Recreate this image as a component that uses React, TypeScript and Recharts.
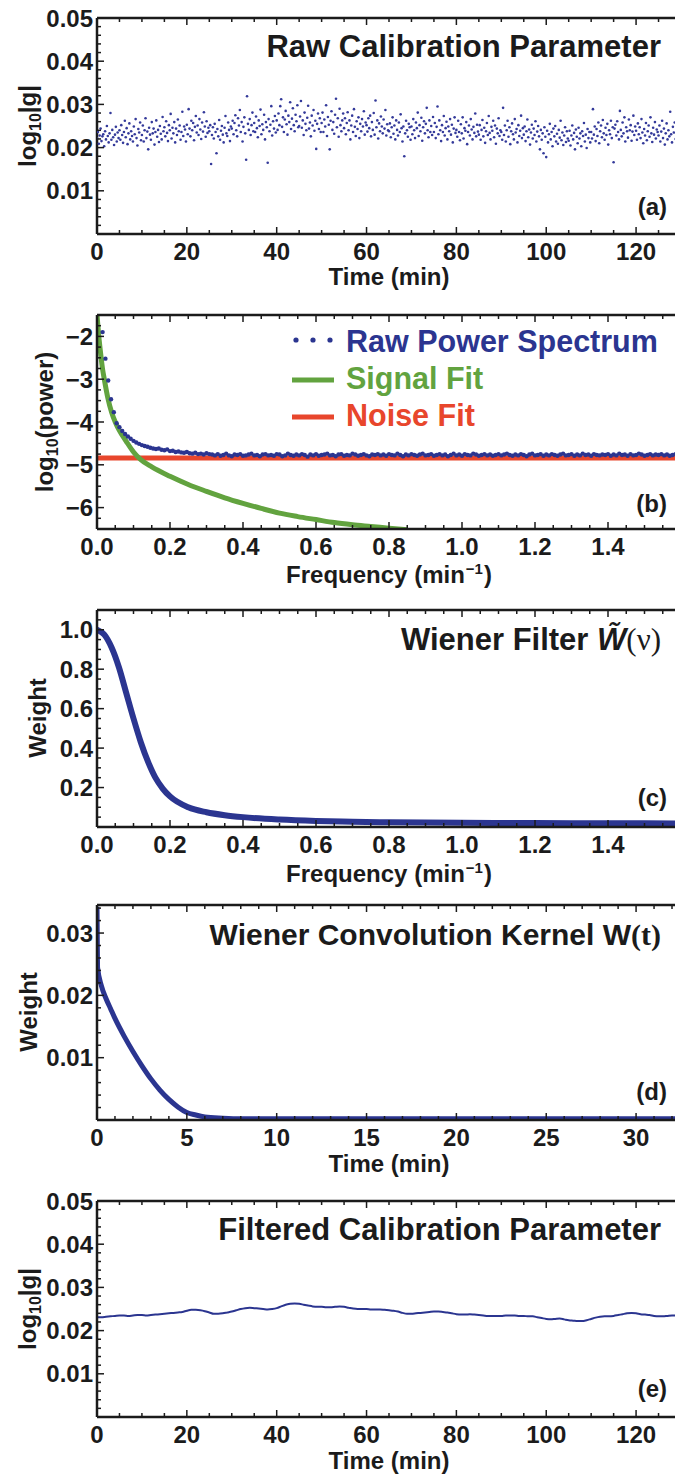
import React from 'react';
import { ComposedChart, Scatter, Line, XAxis, YAxis } from 'recharts';

// (a) raw log10|g|, one sample every 0.2 min, values in units of 1e-4
const rawStep = 0.2;
const rawG = [
  221, 236, 209, 228, 244, 215, 226, 231, 203, 238, 219, 250, 227, 212, 233, 280, 218, 241, 224, 206, 230, 248, 214, 235, 222,
  240, 218, 252, 229, 211, 236, 262, 224, 245, 208, 233, 256, 219, 238, 227, 214, 249, 231, 266, 222, 205, 243, 235, 258, 217,
  229, 251, 214, 240, 268, 222, 237, 196, 246, 230, 218, 259, 233, 244, 207, 236, 263, 225, 241, 213, 250, 232, 219, 271, 238,
  247, 226, 261, 234, 215, 252, 240, 278, 221, 246, 233, 259, 212, 244, 229, 265, 238, 251, 218, 236, 283, 227, 249, 242, 214,
  253, 231, 289, 244, 226, 262, 240, 257, 217, 248, 273, 235, 251, 229, 266, 242, 220, 258, 237, 282, 249, 225, 261, 234, 246,
  238, 252, 162, 229, 247, 221, 255, 236, 187, 243, 226, 264, 218, 239, 250, 230, 212, 246, 273, 233, 227, 258, 241, 215, 249,
  244, 262, 231, 257, 275, 240, 226, 268, 251, 287, 236, 259, 214, 248, 270, 233, 172, 319, 255, 241, 266, 229, 252, 281, 238,
  257, 236, 272, 245, 224, 263, 250, 288, 231, 254, 241, 276, 219, 259, 247, 165, 266, 238, 253, 296, 228, 261, 244, 273, 235,
  263, 241, 279, 252, 296, 312, 248, 270, 236, 265, 285, 254, 230, 274, 259, 305, 243, 267, 291, 252, 238, 276, 261, 298, 247,
  250, 272, 308, 246, 263, 229, 281, 255, 240, 269, 297, 244, 258, 226, 274, 251, 287, 239, 262, 197, 255, 279, 243, 268, 236,
  257, 281, 236, 265, 249, 298, 227, 271, 253, 196, 262, 284, 241, 259, 232, 276, 313, 247, 268, 225, 290, 252, 238, 263, 279,
  245, 268, 231, 257, 282, 240, 263, 219, 251, 274, 236, 289, 248, 227, 261, 243, 270, 222, 255, 238, 266, 249, 284, 230, 258,
  252, 237, 268, 245, 274, 226, 259, 241, 280, 230, 309, 247, 263, 221, 256, 238, 272, 249, 233, 265, 244, 287, 228, 254, 240,
  238, 256, 224, 247, 270, 232, 251, 219, 263, 241, 228, 258, 236, 277, 245, 214, 249, 180, 233, 262, 240, 225, 255, 247, 218,
  249, 231, 266, 240, 222, 258, 245, 281, 227, 252, 238, 269, 216, 247, 261, 233, 255, 292, 240, 224, 263, 236, 250, 229, 271,
  236, 257, 222, 248, 295, 231, 263, 240, 215, 252, 236, 273, 228, 245, 260, 219, 249, 238, 266, 230, 253, 212, 244, 270, 234,
  241, 225, 262, 236, 217, 254, 233, 270, 221, 245, 239, 259, 208, 236, 251, 228, 266, 242, 219, 248, 234, 279, 226, 253, 237,
  230, 252, 218, 241, 264, 226, 246, 211, 238, 257, 229, 273, 234, 219, 248, 239, 262, 224, 251, 209, 244, 233, 268, 227, 240,
  236, 218, 292, 229, 251, 214, 240, 262, 225, 247, 208, 238, 256, 231, 219, 266, 235, 243, 212, 252, 227, 239, 274, 222, 245,
  230, 249, 215, 238, 265, 224, 242, 207, 235, 253, 221, 244, 229, 261, 214, 237, 250, 226, 196, 241, 218, 233, 187, 247, 225,
  178, 239, 212, 231, 255, 219, 236, 203, 244, 226, 250, 214, 232, 209, 241, 223, 262, 217, 235, 206, 228, 247, 213, 238, 221,
  216, 239, 205, 228, 251, 219, 234, 196, 242, 225, 210, 246, 221, 233, 203, 238, 227, 257, 214, 230, 199, 243, 222, 236, 212,
  236, 221, 289, 230, 249, 215, 243, 227, 258, 210, 238, 251, 224, 264, 233, 218, 246, 229, 255, 207, 240, 231, 262, 222, 247,
  166, 244, 253, 228, 261, 236, 219, 285, 241, 226, 258, 233, 270, 214, 247, 238, 223, 265, 240, 252, 216, 237, 274, 229, 249,
  239, 218, 256, 231, 247, 222, 266, 235, 210, 243, 228, 257, 217, 238, 251, 225, 270, 233, 213, 246, 230, 259, 221, 242, 236,
  228, 251, 214, 237, 262, 222, 244, 207, 233, 256, 219, 240, 226, 283, 231, 212, 248, 235, 258, 220, 239, 227, 252, 216, 241,
];

// (e) filtered log10|g|, one value per minute, units of 1e-4
const filteredG = [
  231, 231, 232, 233, 234, 235, 235, 234, 235, 236,
  236, 235, 236, 237, 238, 239, 240, 241, 242, 243,
  246, 248, 248, 247, 245, 242, 239, 239, 240, 242,
  244, 247, 250, 252, 253, 252, 251, 250, 249, 250,
  252, 256, 260, 262, 263, 262, 260, 258, 256, 255,
  255, 254, 254, 255, 256, 255, 253, 251, 250, 250,
  250, 249, 249, 249, 248, 247, 246, 244, 241, 239,
  239, 240, 241, 242, 243, 244, 244, 243, 242, 240,
  238, 237, 237, 238, 237, 236, 235, 234, 234, 234,
  234, 235, 235, 235, 234, 234, 233, 233, 231, 229,
  227, 226, 227, 228, 226, 224, 223, 222, 222, 224,
  227, 230, 232, 233, 233, 234, 236, 238, 240, 241,
  240, 238, 237, 236, 234, 233, 233, 234, 235, 235,
];

// (b) raw power spectrum, log10(power) at k / 130 min^-1 starting from k = 2
const specStep = 1 / 130;
const specFirstK = 2;
const rawSpectrum = [
  -1.9, -2.52, -3.03, -3.47, -3.77, -4.03, -4.12, -4.21, -4.28, -4.34, -4.39, -4.44, -4.48, -4.51, -4.54, -4.56, -4.58, -4.6, -4.62,
  -4.63, -4.62, -4.65, -4.66, -4.64, -4.68, -4.67, -4.7, -4.69, -4.71, -4.72, -4.7, -4.73, -4.74, -4.72, -4.75, -4.74, -4.76, -4.73, -4.75,
  -4.76, -4.78, -4.75, -4.79, -4.77, -4.74, -4.78, -4.8, -4.76, -4.77, -4.75, -4.79, -4.78, -4.76, -4.74, -4.78, -4.77, -4.8, -4.76, -4.75,
  -4.78, -4.77, -4.79, -4.75, -4.76, -4.8, -4.78, -4.74, -4.77, -4.79, -4.76, -4.78, -4.75, -4.77, -4.81, -4.76, -4.78, -4.75, -4.79, -4.77,
  -4.76, -4.74, -4.78, -4.77, -4.8, -4.76, -4.75, -4.79, -4.77, -4.78, -4.74, -4.76, -4.79, -4.77, -4.75, -4.78, -4.8, -4.76, -4.77, -4.75,
  -4.78, -4.76, -4.79, -4.75, -4.77, -4.78, -4.74, -4.77, -4.8, -4.76, -4.78, -4.75, -4.77, -4.79, -4.76, -4.74, -4.78, -4.77, -4.75, -4.79,
  -4.77, -4.75, -4.78, -4.76, -4.8, -4.77, -4.74, -4.78, -4.76, -4.79, -4.75, -4.77, -4.78, -4.74, -4.76, -4.79, -4.77, -4.75, -4.78, -4.76,
  -4.79, -4.77, -4.75, -4.78, -4.76, -4.74, -4.77, -4.79, -4.76, -4.78, -4.75, -4.77, -4.8, -4.76, -4.74, -4.78, -4.77, -4.75, -4.79, -4.76,
  -4.78, -4.75, -4.77, -4.79, -4.76, -4.74, -4.78, -4.77, -4.75, -4.79, -4.76, -4.78, -4.74, -4.77, -4.76, -4.79, -4.75, -4.77, -4.78, -4.76,
  -4.77, -4.75, -4.79, -4.76, -4.78, -4.74, -4.77, -4.76, -4.79, -4.75, -4.78, -4.77, -4.74, -4.76, -4.79, -4.77, -4.75, -4.78, -4.76, -4.77,
  -4.75, -4.78, -4.76, -4.79, -4.77, -4.75,
];

const signalFreq = [0, 0.005, 0.01, 0.015, 0.02, 0.03, 0.04, 0.05, 0.06, 0.08, 0.1, 0.12, 0.15, 0.2, 0.25, 0.3, 0.35, 0.4, 0.45, 0.5, 0.55, 0.6, 0.65, 0.7, 0.75, 0.8, 0.85];
const signalLog = [-1.5, -2.0, -2.4, -2.75, -3.0, -3.45, -3.77, -4.0, -4.18, -4.45, -4.7, -4.88, -5.05, -5.27, -5.46, -5.62, -5.77, -5.9, -6.02, -6.13, -6.21, -6.28, -6.35, -6.4, -6.44, -6.48, -6.52];

const noiseFreq = [0, 1.6];
const noiseLog = [-4.84, -4.84];

// (c) Wiener filter
const filterFreq = [0, 0.02, 0.04, 0.06, 0.08, 0.1, 0.12, 0.14, 0.16, 0.18, 0.2, 0.25, 0.3, 0.35, 0.4, 0.5, 0.6, 0.7, 0.8, 1.0, 1.2, 1.4, 1.6];
const filterWeight = [1.0, 0.975, 0.91, 0.81, 0.68, 0.55, 0.43, 0.33, 0.25, 0.195, 0.155, 0.1, 0.075, 0.06, 0.05, 0.038, 0.031, 0.027, 0.024, 0.021, 0.02, 0.019, 0.018];

// (d) convolution kernel
const kernelTime = [0, 0.03, 0.25, 0.5, 0.75, 1, 1.5, 2, 2.5, 3, 3.5, 4, 4.5, 5, 5.5, 6, 7, 8, 10, 15, 20, 25, 30, 32.5];
const kernelWeight = [0.0342, 0.0245, 0.0215, 0.0195, 0.0179, 0.0163, 0.0135, 0.011, 0.0087, 0.0066, 0.0048, 0.0033, 0.0021, 0.0012, 0.0008, 0.0005, 0.0003, 0.0002, 0.0002, 0.0002, 0.0002, 0.0002, 0.0002, 0.0002];

// tick labels
const timeTicks = [0, 20, 40, 60, 80, 100, 120];
const freqTicks = [0, 0.2, 0.4, 0.6, 0.8, 1.0, 1.2, 1.4];
const kernelTimeTicks = [0, 5, 10, 15, 20, 25, 30];
const gTicks = [0.01, 0.02, 0.03, 0.04, 0.05];
const powerTicks = [-6, -5, -4, -3, -2];
const weightTicks = [0.2, 0.4, 0.6, 0.8, 1.0];
const kernelWeightTicks = [0.01, 0.02, 0.03];

const rawPoints = rawG.map((v, i) => ({ x: i * rawStep, y: v / 10000 }));
const filteredPoints = filteredG.map((v, i) => ({ x: i, y: v / 10000 }));
const spectrumPoints = rawSpectrum.map((p, i) => ({ x: (i + specFirstK) * specStep, y: p }));
const signalPoints = signalFreq.map((f, i) => ({ x: f, y: signalLog[i] }));
const noisePoints = noiseFreq.map((f, i) => ({ x: f, y: noiseLog[i] }));
const filterPoints = filterFreq.map((f, i) => ({ x: f, y: filterWeight[i] }));
const kernelPoints = kernelTime.map((t, i) => ({ x: t, y: kernelWeight[i] }));

const FONT = '"Liberation Sans", Arial, Helvetica, sans-serif';
const SERIF = '"Liberation Serif", "DejaVu Serif", serif';
const INK = '#1b1b1b';
const NAVY = '#2b3590';
const GREEN = '#62a33f';
const RED = '#e8462c';

const steps = (from: number, to: number, step: number) => {
  const out: number[] = [];
  for (let v = from; v <= to + 1e-9; v += step) out.push(Math.round(v * 1e6) / 1e6);
  return out;
};
const isMajor = (v: number, majors: number[]) => majors.some((m) => Math.abs(m - v) < 1e-9);
const minus = (s: string) => s.replace('-', '\u2212');

const labelStyle = { fontFamily: FONT, fontWeight: 700, fontSize: 24, fill: INK };

const bottomTick = (majors: number[], fmt: (v: number) => string) => (props: any) => {
  const { x, y, payload } = props;
  const major = isMajor(payload.value, majors);
  return (
    <g>
      <line x1={x} x2={x} y1={y} y2={y - (major ? 7 : 4)} stroke={INK} strokeWidth={1.5} />
      {major && (
        <text x={x} y={y + 26} textAnchor="middle" style={labelStyle}>
          {fmt(payload.value)}
        </text>
      )}
    </g>
  );
};

const topTick = (majors: number[]) => (props: any) => {
  const { x, y, payload } = props;
  const major = isMajor(payload.value, majors);
  return <line x1={x} x2={x} y1={y} y2={y + (major ? 7 : 4)} stroke={INK} strokeWidth={1.5} />;
};

const leftTick = (majors: number[], fmt: (v: number) => string) => (props: any) => {
  const { x, y, payload } = props;
  const major = isMajor(payload.value, majors);
  return (
    <g>
      <line x1={x} x2={x + (major ? 7 : 4)} y1={y} y2={y} stroke={INK} strokeWidth={1.5} />
      {major && (
        <text x={x - 4} y={y + 8.5} textAnchor="end" style={labelStyle}>
          {fmt(payload.value)}
        </text>
      )}
    </g>
  );
};

const frame = { stroke: INK, strokeWidth: 2.5 };

type PanelProps = {
  plotTop: number;
  plotH: number;
  xDomain: [number, number];
  yDomain: [number, number];
  xTicks: number[];
  yTicks: number[];
  xMajor: number[];
  yMajor: number[];
  xFmt: (v: number) => string;
  yFmt: (v: number) => string;
  children: React.ReactNode;
};

const Panel = ({ plotTop, plotH, xDomain, yDomain, xTicks, yTicks, xMajor, yMajor, xFmt, yFmt, children }: PanelProps) => (
  <div style={{ position: 'absolute', left: 0, top: plotTop - 30 }}>
    <ComposedChart width={700} height={plotH + 90} margin={{ top: 29, right: 19, bottom: 0, left: 0 }}>
      <XAxis
        xAxisId="top"
        orientation="top"
        type="number"
        dataKey="x"
        domain={xDomain}
        allowDataOverflow
        ticks={xTicks}
        interval={0}
        height={1}
        tickSize={0}
        tickMargin={0}
        tickLine={false}
        axisLine={frame}
        tick={topTick(xMajor)}
      />
      <XAxis
        type="number"
        dataKey="x"
        domain={xDomain}
        allowDataOverflow
        ticks={xTicks}
        interval={0}
        height={60}
        tickSize={0}
        tickMargin={0}
        tickLine={false}
        axisLine={frame}
        tick={bottomTick(xMajor, xFmt)}
      />
      <YAxis
        type="number"
        dataKey="y"
        domain={yDomain}
        allowDataOverflow
        ticks={yTicks}
        interval={0}
        width={97}
        tickSize={0}
        tickMargin={0}
        tickLine={false}
        axisLine={frame}
        tick={leftTick(yMajor, yFmt)}
      />
      {children}
    </ComposedChart>
  </div>
);

const fmt0 = (v: number) => String(v);
const fmt1 = (v: number) => v.toFixed(1);
const fmt2 = (v: number) => v.toFixed(2);

const YTitle = ({ cx, cy, children }: { cx: number; cy: number; children: React.ReactNode }) => (
  <text x={cx} y={cy + 8} textAnchor="middle" transform={`rotate(-90 ${cx} ${cy})`} style={labelStyle}>
    {children}
  </text>
);

const FreqTitle = ({ y }: { y: number }) => (
  <text x={389} y={y} textAnchor="middle" style={labelStyle}>
    Frequency (min
    <tspan fontSize={15} dx={1} dy={-9}>{'\u22121'}</tspan>
    <tspan dx={1} dy={9}>)</tspan>
  </text>
);

const titleStyle = { fontFamily: FONT, fontWeight: 700, fontSize: 31, fill: INK };
const legendStyle = { fontFamily: FONT, fontWeight: 700, fontSize: 30.5 };

const App = () => (
  <div style={{ position: 'absolute', left: 0, top: 0, width: 675, height: 1474, overflow: 'hidden', background: '#fff' }}>
    <Panel
      plotTop={18}
      plotH={216}
      xDomain={[0, 130]}
      yDomain={[0, 0.05]}
      xTicks={steps(0, 130, 5)}
      yTicks={steps(0, 0.05, 0.002)}
      xMajor={timeTicks}
      yMajor={gTicks}
      xFmt={fmt0}
      yFmt={fmt2}
    >
      <Scatter
        data={rawPoints}
        isAnimationActive={false}
        shape={(p: any) => <circle cx={p.cx} cy={p.cy} r={1.3} fill="#343a9a" />}
      />
    </Panel>

    <Panel
      plotTop={315}
      plotH={214}
      xDomain={[0, 1.6]}
      yDomain={[-6.5, -1.5]}
      xTicks={steps(0, 1.6, 0.05)}
      yTicks={steps(-6.5, -1.5, 0.25)}
      xMajor={freqTicks}
      yMajor={powerTicks}
      xFmt={fmt1}
      yFmt={(v) => minus(String(v))}
    >
      <Line data={noisePoints} dataKey="y" stroke={RED} strokeWidth={5} dot={false} activeDot={false} isAnimationActive={false} />
      <Line data={signalPoints} dataKey="y" type="monotone" stroke={GREEN} strokeWidth={5} dot={false} activeDot={false} isAnimationActive={false} />
      <Scatter
        data={spectrumPoints}
        isAnimationActive={false}
        shape={(p: any) => <circle cx={p.cx} cy={p.cy} r={2.2} fill={NAVY} />}
      />
    </Panel>

    <Panel
      plotTop={610}
      plotH={217}
      xDomain={[0, 1.6]}
      yDomain={[0, 1.1]}
      xTicks={steps(0, 1.6, 0.05)}
      yTicks={steps(0, 1.1, 0.05)}
      xMajor={freqTicks}
      yMajor={weightTicks}
      xFmt={fmt1}
      yFmt={fmt1}
    >
      <Line data={filterPoints} dataKey="y" type="monotone" stroke={NAVY} strokeWidth={6} dot={false} activeDot={false} isAnimationActive={false} />
    </Panel>

    <Panel
      plotTop={905}
      plotH={215}
      xDomain={[0, 32.5]}
      yDomain={[0, 0.0345]}
      xTicks={steps(0, 32, 1)}
      yTicks={steps(0, 0.034, 0.002)}
      xMajor={kernelTimeTicks}
      yMajor={kernelWeightTicks}
      xFmt={fmt0}
      yFmt={fmt2}
    >
      <Line data={kernelPoints} dataKey="y" type="monotone" stroke={NAVY} strokeWidth={5} dot={false} activeDot={false} isAnimationActive={false} />
    </Panel>

    <Panel
      plotTop={1201}
      plotH={216}
      xDomain={[0, 130]}
      yDomain={[0, 0.05]}
      xTicks={steps(0, 130, 5)}
      yTicks={steps(0, 0.05, 0.002)}
      xMajor={timeTicks}
      yMajor={gTicks}
      xFmt={fmt0}
      yFmt={fmt2}
    >
      <Line data={filteredPoints} dataKey="y" type="monotone" stroke={NAVY} strokeWidth={2} dot={false} activeDot={false} isAnimationActive={false} />
    </Panel>

    <svg width={675} height={1474} style={{ position: 'absolute', left: 0, top: 0, pointerEvents: 'none' }}>
      {/* (a) */}
      <text x={661} y={57} textAnchor="end" style={titleStyle}>Raw Calibration Parameter</text>
      <text x={667} y={215} textAnchor="end" style={labelStyle}>(a)</text>
      <YTitle cx={28} cy={126}>
        log<tspan fontSize={16} dy={5}>10</tspan><tspan dy={-5}>|g|</tspan>
      </YTitle>
      <text x={389} y={285} textAnchor="middle" style={labelStyle}>Time (min)</text>

      {/* (b) */}
      <circle cx={296} cy={340} r={2.6} fill={NAVY} />
      <circle cx={313} cy={340} r={2.6} fill={NAVY} />
      <circle cx={330} cy={340} r={2.6} fill={NAVY} />
      <text x={346} y={352} style={{ ...legendStyle, fill: NAVY }}>Raw Power Spectrum</text>
      <line x1={292} x2={334} y1={380} y2={380} stroke={GREEN} strokeWidth={5} />
      <text x={346} y={389} style={{ ...legendStyle, fill: GREEN }}>Signal Fit</text>
      <line x1={292} x2={334} y1={417} y2={417} stroke={RED} strokeWidth={5} />
      <text x={346} y={426} style={{ ...legendStyle, fill: RED }}>Noise Fit</text>
      <text x={667} y={512} textAnchor="end" style={labelStyle}>(b)</text>
      <YTitle cx={45} cy={422}>
        log<tspan fontSize={16} dy={5}>10</tspan><tspan dy={-5}>(power)</tspan>
      </YTitle>
      <FreqTitle y={583} />

      {/* (c) */}
      <text x={661} y={650} textAnchor="end" style={titleStyle}>
        Wiener Filter <tspan fontStyle="italic">{'W\u0303'}</tspan>
        <tspan fontFamily={SERIF} fontWeight={400}>({'\u03bd'})</tspan>
      </text>
      <text x={667} y={806} textAnchor="end" style={labelStyle}>(c)</text>
      <YTitle cx={38} cy={718}>Weight</YTitle>
      <FreqTitle y={882} />

      {/* (d) */}
      <text x={661} y={945} textAnchor="end" style={{ ...titleStyle, fontSize: 30 }}>
        Wiener Convolution Kernel W<tspan fontFamily={SERIF}>(t)</tspan>
      </text>
      <text x={667} y={1100} textAnchor="end" style={labelStyle}>(d)</text>
      <YTitle cx={29} cy={1012}>Weight</YTitle>
      <text x={389} y={1172} textAnchor="middle" style={labelStyle}>Time (min)</text>

      {/* (e) */}
      <text x={661} y={1240} textAnchor="end" style={titleStyle}>Filtered Calibration Parameter</text>
      <text x={667} y={1397} textAnchor="end" style={labelStyle}>(e)</text>
      <YTitle cx={28} cy={1309}>
        log<tspan fontSize={16} dy={5}>10</tspan><tspan dy={-5}>|g|</tspan>
      </YTitle>
      <text x={389} y={1469} textAnchor="middle" style={labelStyle}>Time (min)</text>
    </svg>
  </div>
);

export default App;
